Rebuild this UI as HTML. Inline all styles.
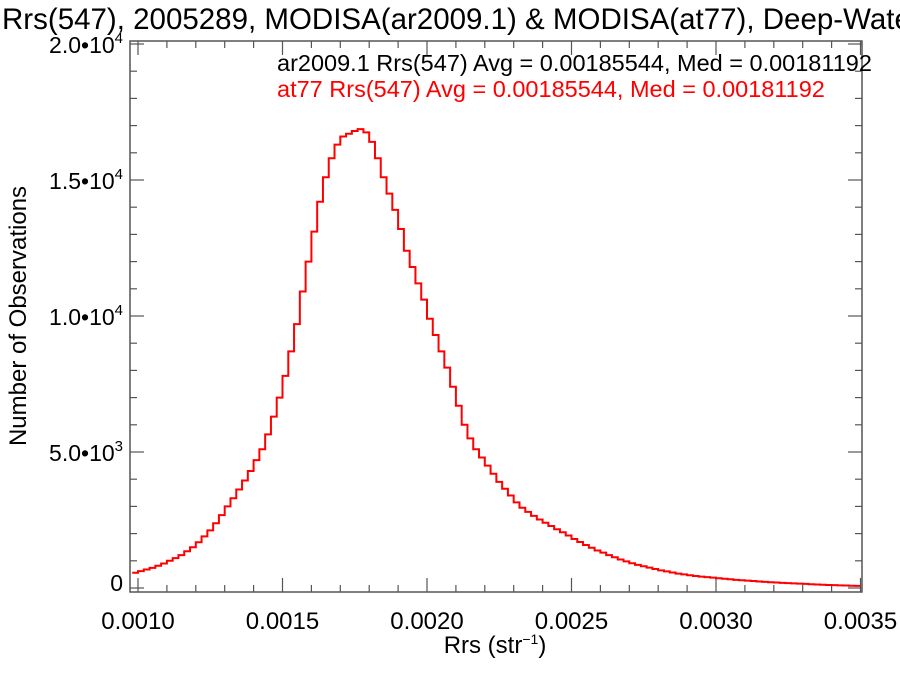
<!DOCTYPE html>
<html><head><meta charset="utf-8"><style>
body{margin:0;background:#fff;}
svg{display:block;font-family:"Liberation Sans",sans-serif;}
</style></head><body>
<svg id="chart" width="900" height="675" viewBox="0 0 900 675">
<text x="2" y="29" font-size="29.5" fill="#000">Rrs(547), 2005289, MODISA(ar2009.1) &amp; MODISA(at77), Deep-Water</text>
<g id="axes"></g>
<g id="bars"></g>
<text x="277" y="71" font-size="23.5" fill="#000">ar2009.1 Rrs(547) Avg = 0.00185544, Med = 0.00181192</text>
<text x="277" y="97" font-size="23.5" fill="#ff0000">at77 Rrs(547) Avg = 0.00185544, Med = 0.00181192</text>
<text transform="translate(26,316) rotate(-90)" text-anchor="middle" font-size="24">Number of Observations</text>
<text x="495" y="653" text-anchor="middle" font-size="24">Rrs (str<tspan dy="-9" font-size="14">−1</tspan><tspan dy="9">)</tspan></text>
</svg>
<script>
const binStart = 0.00098;
const binWidth = 0.00002;
const counts = [560,620,680,740,820,900,1000,1100,1210,1350,1500,1680,1900,2120,2380,2680,3000,3300,3620,3950,4300,4700,5100,5650,6300,7000,7800,8700,9700,10900,12000,13100,14200,15100,15800,16300,16600,16700,16800,16870,16750,16400,15800,15100,14500,13900,13200,12400,11800,11200,10600,9900,9300,8700,8100,7400,6700,6000,5500,5100,4800,4500,4200,3900,3650,3400,3150,2950,2800,2650,2520,2400,2280,2160,2050,1930,1800,1690,1580,1480,1380,1300,1210,1130,1050,980,910,850,800,750,700,650,610,570,530,500,470,440,420,400,380,360,340,320,300,285,270,255,240,225,210,200,190,180,170,160,150,140,130,120,112,105,98,90,84,78];
const xTicks = [0.0010,0.0015,0.0020,0.0025,0.0030,0.0035];
const xTickLabels = ["0.0010","0.0015","0.0020","0.0025","0.0030","0.0035"];
const yTicks = [0,5000,10000,15000,20000];
const yTickMant = ["0","5.0","1.0","1.5","2.0"];

const NS="http://www.w3.org/2000/svg";
const L=130,R=862,T=41,B=592;
const xs=v=>138+(v-0.001)*289000;
const ys=v=>588-v*0.0272;
const axes=document.getElementById('axes');
function mk(tag,attrs,parent){const e=document.createElementNS(NS,tag);for(const k in attrs)e.setAttribute(k,attrs[k]);parent.appendChild(e);return e;}
const frame=mk('rect',{x:L,y:T,width:R-L,height:B-T,fill:'none',stroke:'#555','stroke-width':1.5},axes);


for(let i=0;i<=25;i++){
  const v=0.001+i*0.0001; const x=xs(v); if(x<L||x>R+1)continue;
  const len=(i%5===0)?14:7;
  const t1=mk('line',{x1:x,x2:x,y1:B,y2:B-len,stroke:'#555','stroke-width':1.2},axes);
  
  
  const t2=mk('line',{x1:x,x2:x,y1:T,y2:T+len,stroke:'#555','stroke-width':1.2},axes);
  
  
}
xTicks.forEach((v,i)=>{
  const t=mk('text',{x:xs(v),y:629,'text-anchor':'middle','font-size':24},axes);
  t.textContent=xTickLabels[i];
  
  
});
for(let i=0;i<=20;i++){
  const v=i*1000; const y=ys(v);
  const len=(i%5===0)?14:7;
  const t1=mk('line',{x1:L,x2:L+len,y1:y,y2:y,stroke:'#555','stroke-width':1.2},axes);
  
  
  const t2=mk('line',{x1:R,x2:R-len,y1:y,y2:y,stroke:'#555','stroke-width':1.2},axes);
  
  
}
yTicks.forEach((v,i)=>{
  const t=mk('text',{x:123,y:ys(v)+(v===0?3:9),'text-anchor':'end','font-size':23},axes);
  
  
  if(v===0){t.textContent='0';}
  else{
    t.appendChild(document.createTextNode(yTickMant[i]+'•10'));
    const s=document.createElementNS(NS,'tspan');s.setAttribute('dy','-10');s.setAttribute('font-size','15');s.textContent=(v<10000)?'3':'4';
    t.appendChild(s);
  }
});
let d='';
counts.forEach((c,i)=>{
  const x0=Math.max(xs(binStart+i*binWidth),L), x1=Math.min(xs(binStart+(i+1)*binWidth),R);
  const y=ys(c);
  d+=(i===0?'M':'L')+x0.toFixed(2)+','+y.toFixed(2)+'L'+x1.toFixed(2)+','+y.toFixed(2);
});
const p=mk('path',{d:d,fill:'none',stroke:'#ff0000','stroke-width':2},document.getElementById('bars'));


</script>
</body></html>
